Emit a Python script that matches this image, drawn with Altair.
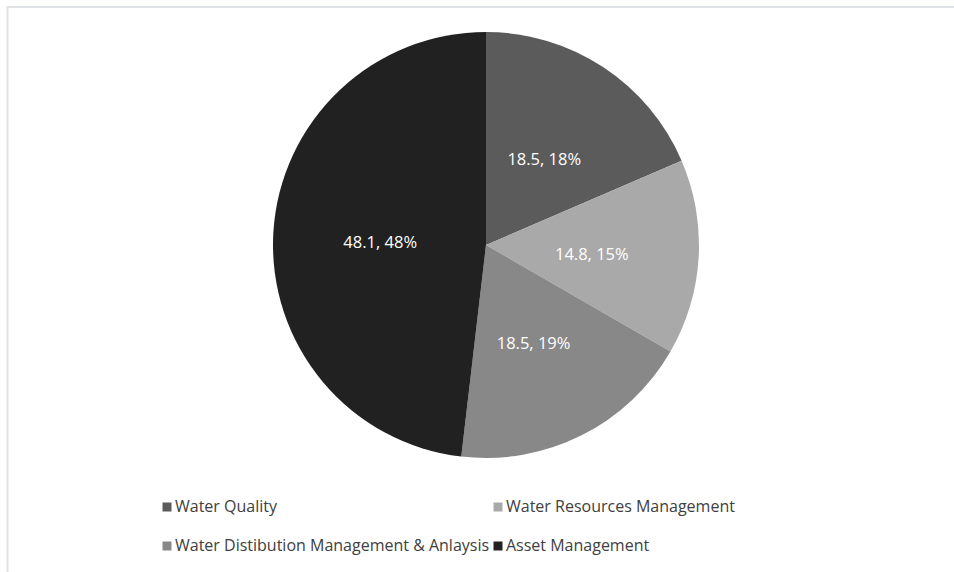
import altair as alt
import pandas as pd

categories = [
    "Water Quality",
    "Water Resources Management",
    "Water Distibution Management & Anlaysis",
    "Asset Management",
]
values = [18.5, 14.8, 18.5, 48.1]
pct_labels = ["18%", "15%", "19%", "48%"]
colors = ["#5b5b5b", "#a9a9a9", "#888888", "#212121"]

df = pd.DataFrame({
    "cat": categories,
    "value": values,
    "idx": list(range(len(categories))),
    "label": [f"{v}, {p}" for v, p in zip(values, pct_labels)],
})

FONT = "Open Sans"
CX, CY, R = 486, 245, 213

base = alt.Chart(df).encode(
    theta=alt.Theta("value:Q", stack=True),
    order=alt.Order("idx:Q", sort="ascending"),
    x=alt.value(CX),
    y=alt.value(CY),
)

arcs = base.mark_arc(outerRadius=R).encode(
    color=alt.Color(
        "cat:N",
        scale=alt.Scale(domain=categories, range=colors),
        sort=categories,
        legend=alt.Legend(
            title=None,
            orient="none",
            direction="horizontal",
            legendX=159,
            legendY=499,
            columns=2,
            columnPadding=0,
            rowPadding=23,
            padding=0,
            labelFont=FONT,
            labelFontSize=16,
            labelColor="#404040",
            labelOffset=0,
            labelLimit=500,
            symbolType="square",
            symbolSize=81,
            symbolStrokeWidth=0,
        ),
    )
)

texts = base.mark_text(
    radius=106, dy=4, color="white", fontSize=16.5, font=FONT
).encode(text="label:N")

frame_data = alt.Data(values=[{"a": 1}])
top_rule = alt.Chart(frame_data).mark_rule(color="#dee2e6", strokeWidth=2).encode(
    x=alt.value(7), x2=alt.value(954), y=alt.value(7)
)
left_rule = alt.Chart(frame_data).mark_rule(color="#dee2e6", strokeWidth=2).encode(
    x=alt.value(7.5), y=alt.value(6), y2=alt.value(572)
)

chart = alt.layer(top_rule, left_rule, arcs, texts).properties(
    width=954,
    height=572,
    autosize=alt.AutoSizeParams(type="none"),
    padding=0,
    background="white",
).configure_view(stroke=None)

chart.save("out.html", embed_options={"renderer": "svg", "actions": False})
